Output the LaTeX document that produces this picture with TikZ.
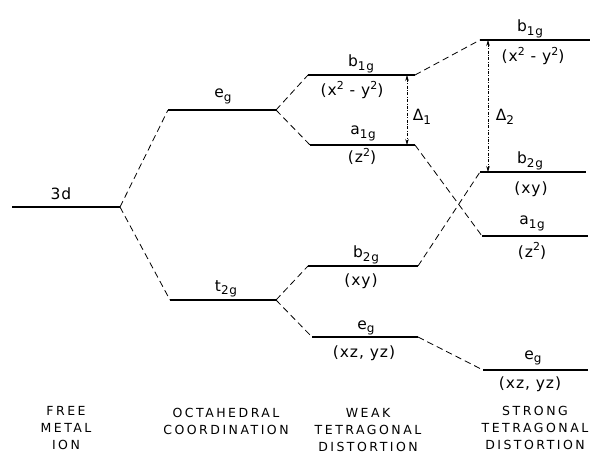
\documentclass[tikz,border=0pt]{standalone}
\usepackage{fontspec}
\setmainfont{DejaVu Sans}
\newfontfamily\lblfont[LetterSpace=6]{DejaVu Sans}
\newfontfamily\capfont[LetterSpace=20]{DejaVu Sans}
\newcommand\lsub[1]{\raisebox{-0.22em}{\fontsize{12}{12}\selectfont #1}}
\newcommand\lsup[1]{\raisebox{0.42em}{\fontsize{11}{11}\selectfont #1}}
\usetikzlibrary{arrows.meta}
\begin{document}
\begin{tikzpicture}[x=1pt,y=-1pt,
  lvlline/.style={line width=2.4pt},
  conn/.style={dash pattern=on 6.5pt off 4pt, line width=0.8pt},
  gaparrow/.style={dash pattern=on 3pt off 1.5pt on 0.8pt off 1.5pt, line width=0.6pt,
    {Stealth[length=6pt,width=3.5pt]}-{Stealth[length=6pt,width=3.5pt]}},
  lbl/.style={font=\lblfont\fontsize{15.5}{17}\selectfont, inner sep=0pt, anchor=base},
  colcap/.style={font=\capfont\fontsize{12.5}{17}\selectfont, align=center, inner sep=0pt, anchor=north}]
\useasboundingbox (0,0) rectangle (591,454);

% level end points
\coordinate (dL) at (12,207);   \coordinate (dR) at (120,207);
\coordinate (egL) at (168,110); \coordinate (egR) at (276,110);
\coordinate (tL) at (170,300);  \coordinate (tR) at (276,300);
\coordinate (wbL) at (308,75);  \coordinate (wbR) at (415,75);
\coordinate (waL) at (310,145); \coordinate (waR) at (415,145);
\coordinate (wcL) at (308,266); \coordinate (wcR) at (418,266);
\coordinate (weL) at (312,337); \coordinate (weR) at (418,337);
\coordinate (sbL) at (480,40);  \coordinate (sbR) at (590,40);
\coordinate (scL) at (480,172); \coordinate (scR) at (586,172);
\coordinate (saL) at (482,236); \coordinate (saR) at (588,236);
\coordinate (seL) at (483,370); \coordinate (seR) at (588,370);
\coordinate (d1T) at (407,75);  \coordinate (d1B) at (407,145);
\coordinate (d2T) at (488,40);  \coordinate (d2B) at (488,172);

% levels
\foreach \a/\b in {dL/dR,egL/egR,tL/tR,wbL/wbR,waL/waR,wcL/wcR,weL/weR,sbL/sbR,scL/scR,saL/saR,seL/seR}
  \draw[lvlline] (\a) -- (\b);

% connectors
\draw[conn] (dR) -- (egL);
\draw[conn] (dR) -- (tL);
\draw[conn] (egR) -- (wbL);
\draw[conn] (egR) -- (waL);
\draw[conn] (tR) -- (wcL);
\draw[conn] (tR) -- (weL);
\draw[conn] (wbR) -- (sbL);
\draw[conn] (waR) -- (saL);
\draw[conn] (wcR) -- (scL);
\draw[conn] (weR) -- (seL);

% splitting arrows
\draw[gaparrow] (d1T) -- (d1B);
\draw[gaparrow] (d2T) -- (d2B);
\node[lbl] (D1) at (422,121) {Δ\lsub{1}};
\node[lbl] (D2) at (505,121) {Δ\lsub{2}};

% labels
\node[lbl] (l3d) at (61,200) {3d};
\node[lbl] (leg) at (223,98) {e\lsub{g}};
\node[lbl] (lt) at (226,291) {t\lsub{2g}};
\node[lbl] (lwb) at (361,67) {b\lsub{1g}};
\node[lbl] (lwbo) at (352,96) {(x\lsup{2} - y\lsup{2})};
\node[lbl] (lwa) at (363,135) {a\lsub{1g}};
\node[lbl] (lwao) at (362,163) {(z\lsup{2})};
\node[lbl] (lwc) at (366,258) {b\lsub{2g}};
\node[lbl] (lwco) at (361,285) {(xy)};
\node[lbl] (lwe) at (366,329) {e\lsub{g}};
\node[lbl] (lweo) at (364,357) {(xz, yz)};
\node[lbl] (lsb) at (530,32) {b\lsub{1g}};
\node[lbl] (lsbo) at (533,62) {(x\lsup{2} - y\lsup{2})};
\node[lbl] (lsc) at (530,164) {b\lsub{2g}};
\node[lbl] (lsco) at (531,194) {(xy)};
\node[lbl] (lsa) at (532,225) {a\lsub{1g}};
\node[lbl] (lsao) at (532,257) {(z\lsup{2})};
\node[lbl] (lse) at (533,359) {e\lsub{g}};
\node[lbl] (lseo) at (530,388) {(xz, yz)};

% column captions
\node[colcap] (c1) at (66,406) {FREE\\METAL\\ION};
\node[colcap] (c2) at (226,408) {OCTAHEDRAL\\COORDINATION};
\node[colcap] (c3) at (368,408) {WEAK\\TETRAGONAL\\DISTORTION};
\node[colcap] (c4) at (535,406) {STRONG\\TETRAGONAL\\DISTORTION};
\end{tikzpicture}
\end{document}
